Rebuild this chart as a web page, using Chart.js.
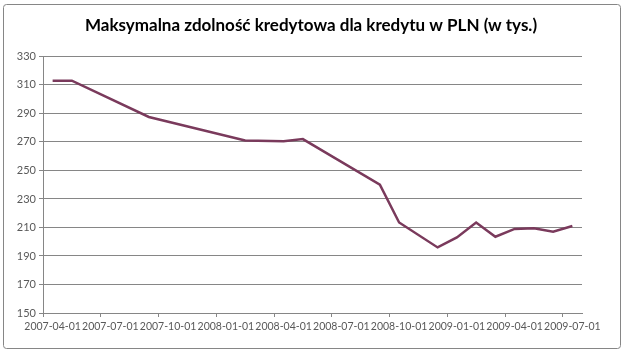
<!DOCTYPE html>
<html>
<head>
<meta charset="utf-8">
<script src="https://cdn.jsdelivr.net/npm/chart.js@4"></script>
<style>
  body { margin: 0; background: #fff; }
  #wrap { width: 628px; height: 355px; }
</style>
</head>
<body>
<div id="wrap"><canvas id="wykres" width="628" height="355"></canvas></div>
<script>
// dane z wykresu (miesiące i wartości w tys. zł)
const startMiesiac = '2007-04';
const miesiace = ['2007-04','2007-05','2007-09','2008-02','2008-04','2008-05','2008-09','2008-10',
                  '2008-12','2009-01','2009-02','2009-03','2009-04','2009-05','2009-06','2009-07'];
const wartosci = [313, 313, 287.5, 271, 270.5, 272, 240, 213.5, 196, 203, 213.5, 203.5, 209, 209.5, 207, 211];
const etykietyX = ['2007-04-01','2007-07-01','2007-10-01','2008-01-01','2008-04-01',
                   '2008-07-01','2008-10-01','2009-01-01','2009-04-01','2009-07-01'];
const tytul = 'Maksymalna zdolność kredytowa dla kredytu w PLN (w tys.)';

// indeks miesiąca licząc od startu osi
function nrMiesiaca(s) {
    const [r, m] = s.split('-').map(Number);
    const [r0, m0] = startMiesiac.split('-').map(Number);
    return (r - r0) * 12 + (m - m0);
}

// punkty w środku miesiąca, jak w Excelu
const punkty = miesiace.map((m, i) => ({ x: nrMiesiaca(m) + 0.5, y: wartosci[i] }));
const pozycjeTickow = etykietyX.map(e => nrMiesiaca(e.slice(0, 7)));

const szary = '#868686';
const kolorTekstu = '#595959';

const ramka = {
    id: 'ramka',
    afterDraw(chart) {
        const c = chart.ctx;
        c.save();
        c.strokeStyle = szary;
        c.lineWidth = 1;
        c.beginPath();
        c.roundRect(3.5, 4.5, 617, 344, 3);
        c.stroke();
        c.restore();
    }
};

new Chart(document.getElementById('wykres'), {
    type: 'line',
    data: {
        datasets: [{
            data: punkty,
            borderColor: '#7a3a5c',
            borderWidth: 2.5,
            pointRadius: 0,
            tension: 0,
            fill: false
        }]
    },
    options: {
        responsive: false,
        animation: false,
        layout: { padding: { left: 0, right: 6, top: 0, bottom: 0 } },
        plugins: {
            legend: { display: false },
            tooltip: { enabled: false },
            title: {
                display: true,
                text: tytul,
                color: '#000',
                font: { family: 'Lato', size: 17, weight: 'bold' },
                padding: { top: 15, bottom: 21 }
            }
        },
        scales: {
            x: {
                type: 'linear',
                min: 0,
                max: 28,
                afterBuildTicks: s => { s.ticks = pozycjeTickow.map(v => ({ value: v })); },
                afterFit: s => { s.height = 42; },
                grid: { drawOnChartArea: false, drawTicks: true, tickLength: 4, color: szary },
                border: { display: true, color: szary },
                ticks: {
                    autoSkip: false,
                    maxRotation: 0,
                    padding: 3,
                    labelOffset: 9.6,
                    color: kolorTekstu,
                    font: { family: 'Lato', size: 10.5 },
                    callback: v => etykietyX[pozycjeTickow.indexOf(v)]
                }
            },
            y: {
                min: 150,
                max: 330,
                afterFit: s => { s.width = 43; },
                grid: { color: szary, tickLength: 4 },
                border: { display: true, color: szary },
                ticks: {
                    stepSize: 20,
                    padding: 3,
                    color: kolorTekstu,
                    font: { family: 'Lato', size: 11 }
                }
            },
            // pusta oś po prawej - tylko odstęp, żeby tytuł był na środku
            odstep: {
                position: 'right',
                display: true,
                afterFit: s => { s.width = 40; },
                grid: { display: false },
                border: { display: false },
                ticks: { display: false }
            }
        }
    },
    plugins: [ramka]
});
</script>
</body>
</html>
